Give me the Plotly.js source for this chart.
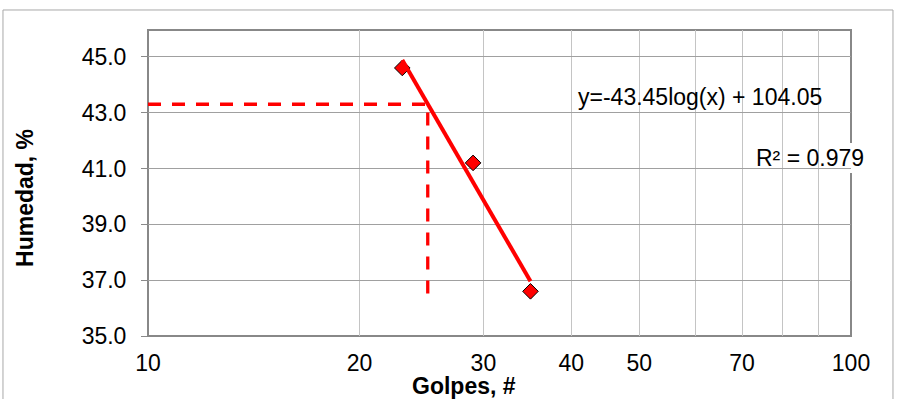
<!DOCTYPE html>
<html>
<head>
<meta charset="utf-8">
<script src="https://cdn.plot.ly/plotly-3.0.1.min.js"></script>
<style>
  html, body { margin: 0; padding: 0; background: #ffffff; }
  #chart { width: 897px; height: 399px; }
</style>
</head>
<body>
<div id="chart"></div>
<script>
// Liquid limit test: moisture content vs. number of blows
const golpes = [23, 29, 35];
const humedad = [44.6, 41.2, 36.6];

// Logarithmic trend line coefficients: y = a*log(x) + b
const trendSlope = -43.45;
const trendIntercept = 104.05;
const trendR2 = 0.979;

// Reading guide at 25 blows
const guideX = [10, 25, 25];
const guideY = [43.3, 43.3, 36.5];

// Axis ticks
const xTickVals = [10, 20, 30, 40, 50, 60, 70, 80, 90, 100];
const xTickText = ['10', '20', '30', '40', '50', '', '70', '', '', '100'];

const FONT = 'Liberation Sans, Arial, sans-serif';
const FS = 23;
const RED = '#ff0000';

const trendX = [Math.min(...golpes), Math.max(...golpes)];
const trendY = trendX.map(x => trendSlope * Math.log10(x) + trendIntercept);

const traces = [
  {
    x: guideX, y: guideY, type: 'scatter', mode: 'lines',
    line: { color: RED, width: 3.3, dash: '13px,11px' },
    hoverinfo: 'skip', showlegend: false
  },
  {
    x: golpes, y: humedad, type: 'scatter', mode: 'markers',
    marker: { symbol: 'diamond', size: 12, color: RED, line: { color: '#000000', width: 1 } },
    showlegend: false
  },
  {
    x: trendX, y: trendY, type: 'scatter', mode: 'lines',
    line: { color: RED, width: 4 },
    hoverinfo: 'skip', showlegend: false
  }
];

const layout = {
  width: 897, height: 399,
  margin: { l: 148, r: 46, t: 30, b: 63 },
  paper_bgcolor: '#ffffff', plot_bgcolor: '#ffffff',
  font: { family: FONT, size: FS, color: '#000000' },
  xaxis: {
    type: 'log', range: [1, 2],
    tickmode: 'array', tickvals: xTickVals, ticktext: xTickText,
    showgrid: true, gridcolor: '#c4c4c4', gridwidth: 1,
    ticks: '', showline: false, zeroline: false,
    ticklabelstandoff: 11,
    tickfont: { family: FONT, size: FS, color: '#000000' }
  },
  yaxis: {
    range: [35, 45.96], tick0: 35, dtick: 2, tickformat: '.1f',
    showgrid: true, gridcolor: '#a0a0a0', gridwidth: 1,
    ticks: 'outside', ticklen: 6, tickcolor: '#8a8a8a', tickwidth: 1,
    showline: false, zeroline: false,
    ticklabelstandoff: 10,
    tickfont: { family: FONT, size: FS, color: '#000000' }
  },
  shapes: [
    // outer chart frame
    { type: 'rect', xref: 'paper', yref: 'paper', x0: -0.2063, x1: 1.0597, y0: -0.4, y1: 1.0654,
      line: { color: '#a8a8a8', width: 1 }, fillcolor: 'rgba(0,0,0,0)', layer: 'below' },
    // plot area border
    { type: 'rect', xref: 'paper', yref: 'paper', x0: 0, x1: 1, y0: 0, y1: 1,
      line: { color: '#888888', width: 2 }, fillcolor: 'rgba(0,0,0,0)', layer: 'between' },
    // label backgrounds
    { type: 'rect', xref: 'paper', yref: 'paper', x0: 0.5733, x1: 0.997, y0: 0.6307, y1: 0.8627,
      line: { width: 0 }, fillcolor: '#ffffff', layer: 'between' },
    { type: 'rect', xref: 'paper', yref: 'paper', x0: 0.8535, x1: 1.0284, y0: 0.5327, y1: 0.6307,
      line: { width: 0 }, fillcolor: '#ffffff', layer: 'between' }
  ],
  annotations: [
    { text: 'y=' + trendSlope.toFixed(2) + 'log(x) + ' + trendIntercept.toFixed(2),
      xref: 'paper', yref: 'paper', x: 0.7859, y: 0.781,
      xanchor: 'center', yanchor: 'middle', showarrow: false,
      font: { family: FONT, size: FS, color: '#000000' } },
    { text: 'R² = ' + trendR2.toFixed(3),
      xref: 'paper', yref: 'paper', x: 0.941, y: 0.583,
      xanchor: 'center', yanchor: 'middle', showarrow: false,
      font: { family: FONT, size: FS, color: '#000000' } },
    { text: '<b>Humedad, %</b>',
      xref: 'paper', yref: 'paper', x: -0.175, y: 0.451,
      xanchor: 'center', yanchor: 'middle', textangle: -90, showarrow: false,
      font: { family: FONT, size: FS, color: '#000000' } },
    { text: '<b>Golpes, #</b>',
      xref: 'paper', yref: 'paper', x: 0.4488, y: -0.165,
      xanchor: 'center', yanchor: 'middle', showarrow: false,
      font: { family: FONT, size: FS, color: '#000000' } }
  ]
};

Plotly.newPlot('chart', traces, layout, { displayModeBar: false, staticPlot: true });
</script>
</body>
</html>
